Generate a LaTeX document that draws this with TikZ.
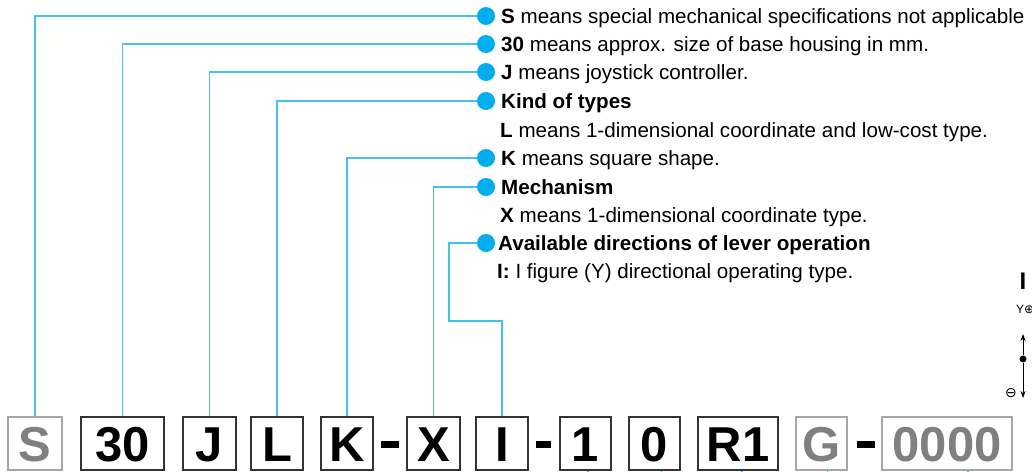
\documentclass[tikz,border=0pt]{standalone}
\usepackage{fontspec}
\setmainfont{Liberation Sans}
\newfontfamily\symfont{DejaVu Sans}
\usetikzlibrary{arrows.meta}
\definecolor{dotblue}{HTML}{00AEEF}
\definecolor{lineblue}{HTML}{45C1EE}
\begin{document}
\begin{tikzpicture}[x=1pt,y=-1pt,
  conn/.style={draw=lineblue,line width=1.5pt},
  bullet/.style={circle,fill=dotblue,minimum size=18pt,inner sep=0pt},
  desc/.style={anchor=base west,inner sep=0pt,font=\fontsize{20.6}{24}\selectfont},
  codebox/.style={draw=black!80,line width=1.2pt,minimum height=53pt,inner sep=0pt,text height=35pt,text depth=0pt,font=\fontsize{49}{50}\selectfont\bfseries},
  graybox/.style={codebox,draw=black!35,text=black!50},
  bar/.style={fill=black,minimum height=7pt,inner sep=0pt},
  dirarrow/.style={-{Stealth[length=7pt,width=5pt]},line width=0.8pt}
]
\useasboundingbox (0,0) rectangle (1032,471);

% code boxes
\node[graybox,minimum width=54pt] (bS) at (35,443.5) {S};
\node[codebox,minimum width=83pt] (b30) at (122.5,443.5) {30};
\node[codebox,minimum width=53pt] (bJ) at (209.5,443.5) {J};
\node[codebox,minimum width=52pt] (bL) at (277,443.5) {L};
\node[codebox,minimum width=52pt] (bK) at (347,443.5) {K};
\node[bar,minimum width=18pt] (dash1) at (390,444.5) {};
\node[codebox,minimum width=53pt] (bX) at (433.5,443.5) {X};
\node[codebox,minimum width=52pt] (bI) at (502,443.5) {I};
\node[bar,minimum width=15pt] (dash2) at (543,444.5) {};
\node[codebox,minimum width=51pt] (b1) at (585.5,443.5) {1};
\node[codebox,minimum width=51pt] (b0) at (654.5,443.5) {0};
\node[codebox,minimum width=80pt] (bR1) at (738,443.5) {R1};
\node[graybox,minimum width=51pt] (bG) at (821.5,443.5) {G};
\node[bar,minimum width=18pt] (dash3) at (866,444.5) {};
\node[graybox,minimum width=130pt] (b0000) at (947,443.5) {0000};

% bullets
\node[bullet] (d1) at (486,16) {};
\node[bullet] (d2) at (486,44) {};
\node[bullet] (d3) at (486,72) {};
\node[bullet] (d4) at (486,101) {};
\node[bullet] (d5) at (486,158) {};
\node[bullet] (d6) at (486,187) {};
\node[bullet] (d7) at (486,243) {};

% connectors
\coordinate (ibend) at (449,321);
\draw[conn] (bS.north) |- (d1);
\draw[conn] (b30.north) |- (d2);
\draw[conn] (bJ.north) |- (d3);
\draw[conn] (bL.north) |- (d4);
\draw[conn] (bK.north) |- (d5);
\draw[conn] (bX.north) |- (d6);
\draw[conn] (bI.north) |- (ibend) |- (d7);

% bottom stubs
\draw[conn] ([xshift=2.5pt]b1.south) -- ++(0,4);
\draw[conn] ([xshift=7pt]b0.south) -- ++(0,4);
\draw[conn] ([xshift=4pt]bR1.south) -- ++(0,4);
\draw[conn] ([xshift=6pt]bG.south) -- ++(0,4);
\draw[conn] ([xshift=21pt]b0000.south) -- ++(0,4);

% descriptions
\node[desc] (t1) at (501,23) {\textbf{S} means special mechanical specifications not applicable};
\node[desc] (t2) at (501,51) {\textbf{30} means approx. size of base housing in mm.};
\node[desc] (t3) at (501,79) {\textbf{J} means joystick controller.};
\node[desc] (t4) at (501,108) {\textbf{Kind of types}};
\node[desc] (t4b) at (500,137) {\textbf{L} means 1-dimensional coordinate and low-cost type.};
\node[desc] (t5) at (501,165) {\textbf{K} means square shape.};
\node[desc] (t6) at (501,194) {\textbf{Mechanism}};
\node[desc] (t6b) at (500,222) {\textbf{X} means 1-dimensional coordinate type.};
\node[desc] (t7) at (498,250) {\textbf{Available directions of lever operation}};
\node[desc] (t7b) at (497,278) {\textbf{I:} I figure (Y) directional operating type.};

% direction sketch (right edge)
\node[anchor=base,inner sep=0pt,font=\fontsize{24}{24}\selectfont\bfseries] (bigI) at (1023,289) {I};
\node[anchor=base west,inner sep=0pt,font=\fontsize{12}{12}\selectfont] (ylab) at (1016,313) {Y{\symfont ⊕}};
\node[circle,fill=black,minimum size=7pt,inner sep=0pt] (ctr) at (1023,359) {};
\coordinate (aup) at (1023,334);
\coordinate (adown) at (1023,398);
\draw[dirarrow] (ctr) -- (aup);
\draw[dirarrow] (ctr) -- (adown);
\node[inner sep=0pt,font=\symfont\fontsize{14}{14}\selectfont] (minus) at (1011,393) {⊖};
\end{tikzpicture}
\end{document}
